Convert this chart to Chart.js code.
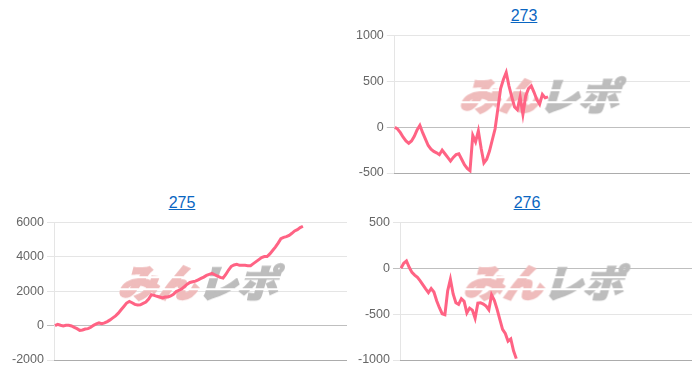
<!DOCTYPE html>
<html>
<head>
<meta charset="utf-8">
<script src="https://cdn.jsdelivr.net/npm/chart.js"></script>
<style>
  body { margin: 0; background: #fff; font-family: Arial, "Liberation Sans", sans-serif; }
  .title { position: absolute; width: 100px; text-align: center; font-size: 16px; line-height: 18px; color: #0a66c2; text-decoration: underline; }
  canvas { position: absolute; }
</style>
</head>
<body>
<a class="title" style="left:474px; top:7px;">273</a>
<canvas id="c273" width="337" height="159" style="left:353px; top:25px;"></canvas>
<a class="title" style="left:132px; top:194px;">275</a>
<canvas id="c275" width="338" height="159" style="left:9px; top:212px;"></canvas>
<a class="title" style="left:477px; top:194px;">276</a>
<canvas id="c276" width="337" height="159" style="left:355px; top:212px;"></canvas>
<script>
const games = Array.from({ length: 107 }, (_, i) => i + 1);

const data273 = [0, -20, -60, -110, -150, -175, -150, -100, -30, 20,
    -60, -130, -200, -240, -265, -280, -300, -250, -290, -330,
    -370, -330, -300, -290, -350, -410, -450, -475, -90, -160,
    -40, -230, -390, -350, -260, -140, -20, 200, 420, 520,
    596, 449, 330, 220, 190, 330, 140, 340, 420, 450,
    380, 300, 250, 357, 320, 330];
const data275 = [0, 78, 20, -20, 20, 20, -20, -98, -176, -274,
    -255, -196, -176, -98, 20, 98, 157, 118, 157, 235,
    333, 451, 568, 725, 921, 1117, 1313, 1411, 1333, 1235,
    1196, 1215, 1294, 1372, 1548, 1800, 1760, 1705, 1666, 1607,
    1666, 1666, 1725, 1823, 1980, 2058, 2136, 2274, 2411, 2509,
    2548, 2587, 2666, 2744, 2822, 2920, 2979, 3038, 2960, 2881,
    2803, 2764, 2979, 3234, 3450, 3528, 3567, 3508, 3508, 3508,
    3489, 3489, 3606, 3724, 3842, 3959, 4018, 4018, 4175, 4371,
    4567, 4802, 5057, 5135, 5174, 5253, 5370, 5508, 5586, 5704,
    5782];
const data276 = [0, 55, 80, 11, -44, -74, -99, -136, -180, -224,
    -265, -220, -258, -353, -430, -495, -505, -247, -120, -280,
    -375, -394, -331, -360, -486, -434, -456, -545, -380, -375,
    -390, -412, -453, -290, -350, -445, -556, -666, -710, -795,
    -770, -900, -985];

const ticks273 = [-500, 0, 500, 1000];
const ticks275 = [-2000, 0, 2000, 4000, 6000];
const ticks276 = [-1000, -500, 0, 500];

// watermark logo drawn under the line
const watermark = {
    id: "watermark",
    beforeDatasetsDraw(chart) {
        const { ctx, chartArea: a } = chart;
        const cx = (a.left + a.right) / 2;
        const cy = (a.top + a.bottom) / 2 - 9;
        const off = document.createElement("canvas");
        off.width = 220; off.height = 50;
        const o = off.getContext("2d");
        o.font = '900 38px "Noto Sans CJK JP"';
        o.textBaseline = "middle";
        o.lineJoin = "miter";
        o.lineWidth = 2;
        const w1 = o.measureText("みん").width;
        const w2 = o.measureText("レポ").width;
        o.setTransform(1.05, 0, -0.3, 1, 8, 0);
        const x0 = 105 - (w1 + w2) / 2;
        o.fillStyle = o.strokeStyle = "#efbcbc";
        o.fillText("みん", x0, 26);
        o.strokeText("みん", x0, 26);
        o.fillStyle = o.strokeStyle = "#bdbdbd";
        o.fillText("レポ", x0 + w1, 26);
        o.strokeText("レポ", x0 + w1, 26);
        o.setTransform(1, 0, 0, 1, 0, 0);
        o.globalCompositeOperation = "destination-out";
        o.fillRect(0, 19, 220, 2);
        o.fillRect(0, 31, 220, 2);
        ctx.save();
        ctx.drawImage(off, cx - 110, cy - 25);
        ctx.restore();
    }
};

function lineChart(id, values, ticks) {
    new Chart(document.getElementById(id), {
        type: "line",
        data: {
            labels: games,
            datasets: [{
                data: values,
                borderColor: "rgb(255, 99, 132)",
                borderWidth: 3,
                pointRadius: 0,
                tension: 0,
                fill: false
            }]
        },
        options: {
            responsive: false,
            animation: false,
            layout: { padding: { bottom: 3 } },
            plugins: { legend: { display: false }, tooltip: { enabled: false } },
            scales: {
                x: {
                    ticks: { display: false },
                    grid: { display: false },
                    border: { color: "rgba(0, 0, 0, 0.25)" }
                },
                y: {
                    min: ticks[0],
                    max: ticks[ticks.length - 1],
                    ticks: {
                        stepSize: ticks[1] - ticks[0],
                        color: "#666",
                        font: { size: 12.5, family: "Arial, 'Liberation Sans'" },
                        callback: v => String(v)
                    },
                    grid: {
                        color: c => c.tick && c.tick.value === 0 ? "rgba(0, 0, 0, 0.25)" : "rgba(0, 0, 0, 0.1)"
                    },
                    border: { color: "rgba(0, 0, 0, 0.1)" }
                }
            }
        },
        plugins: [watermark]
    });
}

lineChart("c273", data273, ticks273);
lineChart("c275", data275, ticks275);
lineChart("c276", data276, ticks276);
</script>
</body>
</html>
